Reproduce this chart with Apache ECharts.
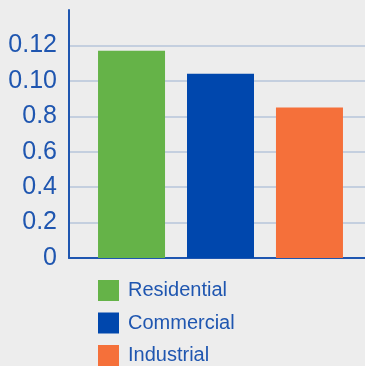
<!DOCTYPE html>
<html>
<head>
<meta charset="utf-8">
<script src="https://cdn.jsdelivr.net/npm/echarts@6/dist/echarts.min.js"></script>
<style>
  html, body { margin: 0; padding: 0; background: #ededed; }
  #chart { width: 365px; height: 366px; }
</style>
</head>
<body>
<div id="chart"></div>
<script>
// data
const categories = ['Residential', 'Commercial', 'Industrial']
const values = [1.17, 1.04, 0.85]
const colors = ['#65b348', '#0047ad', '#f5703a']
// tick labels as printed in the original (top tick left blank)
const tickLabels = ['0', '0.2', '0.4', '0.6', '0.8', '0.10', '0.12', '']

const blue = '#1f56b0'
const font = 'Liberation Sans, Arial, sans-serif'
let myChart = echarts.init(document.getElementById('chart'))

let option = {
  backgroundColor: '#ededed',
  animation: false,
  // grid 0 draws the axes and grid lines, grid 1 holds the bars
  grid: [
    { left: 69, right: 0, top: 10, height: 248 },
    { left: 76, right: 0, top: 10, height: 248 }
  ],
  legend: {
    orient: 'vertical',
    left: 98,
    top: 280,
    height: 90,
    padding: 0,
    icon: 'rect',
    itemWidth: 21,
    itemHeight: 21,
    itemGap: 11.5,
    textStyle: {
      color: blue,
      fontSize: 20,
      fontFamily: font,
      padding: [0, 0, 0, 4]
    },
    data: categories
  },
  xAxis: [
    {
      gridIndex: 0,
      type: 'category',
      data: ['total'],
      axisLabel: { show: false },
      axisTick: { show: false },
      axisLine: { lineStyle: { color: blue, width: 2 } }
    },
    {
      gridIndex: 1,
      type: 'category',
      data: ['total'],
      show: false
    }
  ],
  yAxis: [
    {
      gridIndex: 0,
      type: 'value',
      min: 0,
      max: 1.4,
      interval: 0.2,
      axisLine: { show: true, lineStyle: { color: blue, width: 2 } },
      axisTick: { show: false },
      axisLabel: {
        color: blue,
        fontSize: 25,
        fontFamily: font,
        margin: 12,
        formatter: function (value) {
          return tickLabels[Math.round(value / 0.2)]
        }
      },
      splitLine: {
        showMaxLine: false,
        lineStyle: { color: '#b6c4da', width: 1.5 }
      }
    },
    {
      gridIndex: 1,
      type: 'value',
      min: 0,
      max: 1.4,
      show: false,
      splitLine: { show: false }
    }
  ],
  series: categories.map((name, i) => ({
    name: name,
    type: 'bar',
    xAxisIndex: 1,
    yAxisIndex: 1,
    data: [values[i]],
    barWidth: 67,
    barGap: '32.8%',
    itemStyle: { color: colors[i] }
  }))
}

option && myChart.setOption(option)
</script>
</body>
</html>
